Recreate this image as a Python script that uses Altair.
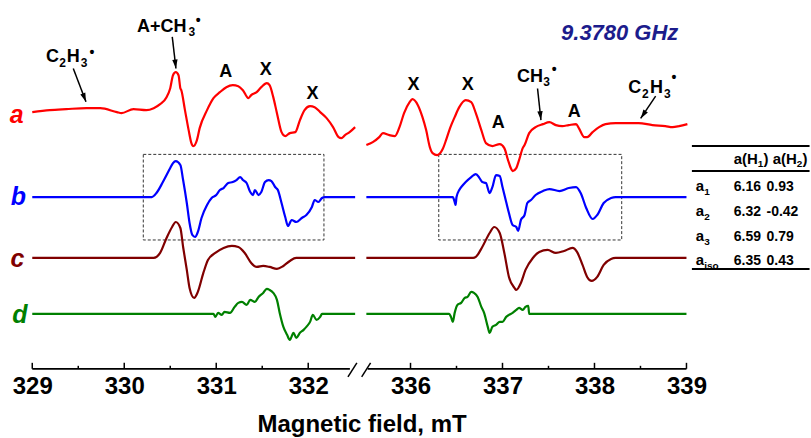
import math
import altair as alt
import pandas as pd

# ---------------- data ----------------
# field (mT) and signal (arbitrary units) for each trace, left and right part of the broken axis
a_left_B = [329.00, 329.19, 329.37, 329.59, 329.74, 329.92, 329.97, 330.10, 330.24, 330.32, 330.39, 330.46, 330.50, 330.53, 330.56, 330.59, 330.61, 330.62, 330.66, 330.70, 330.73, 330.75, 330.79, 330.82, 330.90, 330.97, 331.04, 331.11, 331.18, 331.24, 331.29, 331.35, 331.38, 331.44, 331.49, 331.55, 331.58, 331.62, 331.66, 331.71, 331.75, 331.80, 331.86, 331.91, 331.96, 332.02, 332.07, 332.13, 332.20, 332.27, 332.33, 332.36, 332.40, 332.45, 332.51]
a_left_I = [-1, 1, 2, 3, 3, -1, -2, 2, 1, 3, 7, 14, 23, 36, 39, 36, 23, 21, 1, -19, -32, -35, -29, -17, 1, 13, 19, 24, 26, 25, 21, 13, 16, 19, 24, 28, 26, 14, -2, -21, -25, -22, -21, -9, 1, 5, 4, -1, -7, -16, -26, -27, -24, -21, -16]
a_right_B = [335.52, 335.59, 335.66, 335.70, 335.77, 335.83, 335.88, 335.93, 335.99, 336.02, 336.08, 336.13, 336.17, 336.21, 336.24, 336.29, 336.35, 336.39, 336.43, 336.48, 336.53, 336.60, 336.66, 336.71, 336.77, 336.82, 336.89, 336.97, 337.02, 337.06, 337.09, 337.11, 337.15, 337.18, 337.22, 337.24, 337.29, 337.36, 337.44, 337.51, 337.58, 337.65, 337.72, 337.80, 337.83, 337.89, 337.92, 337.98, 338.05, 338.12, 338.23, 338.34, 338.48, 338.63, 338.77, 338.85, 338.92, 339.01]
a_right_I = [-34, -31, -26, -22, -24, -25, -16, -2, 9, 12, 6, -6, -19, -36, -42, -44, -38, -28, -17, -6, 4, 11, 9, -2, -19, -32, -35, -33, -37, -49, -57, -60, -57, -49, -37, -34, -22, -16, -13, -11, -14, -15, -14, -13, -17, -26, -26, -21, -16, -13, -12, -12, -12, -14, -15, -16, -15, -13]

b_left_B = [329.00, 330.30, 330.35, 330.42, 330.50, 330.53, 330.56, 330.61, 330.64, 330.68, 330.71, 330.74, 330.77, 330.80, 330.84, 330.90, 330.95, 331.00, 331.04, 331.08, 331.13, 331.18, 331.22, 331.26, 331.29, 331.33, 331.37, 331.40, 331.42, 331.46, 331.49, 331.53, 331.57, 331.60, 331.64, 331.67, 331.71, 331.75, 331.78, 331.82, 331.87, 331.93, 331.98, 332.04, 332.07, 332.11, 332.15, 332.18, 332.51]
b_left_I = [0, 0, 4, 15, 29, 34, 36, 32, 17, -6, -26, -38, -40, -35, -21, -8, -1, 2, 7, 9, 14, 15, 17, 20, 17, 14, 5, 2, 7, 2, 5, 15, 17, 16, 10, 7, -6, -20, -29, -23, -25, -21, -18, -10, -3, -5, -1, 0, 0]
b_right_B = [335.52, 336.46, 336.48, 336.49, 336.50, 336.53, 336.57, 336.60, 336.66, 336.71, 336.75, 336.78, 336.82, 336.86, 336.89, 336.93, 336.97, 337.00, 337.04, 337.07, 337.11, 337.15, 337.17, 337.20, 337.24, 337.27, 337.31, 337.36, 337.44, 337.51, 337.62, 337.72, 337.80, 337.85, 337.91, 337.98, 338.03, 338.10, 338.18, 338.23, 339.00]
b_right_I = [0, 0, -5, -8, 0, 7, 12, 15, 20, 23, 19, 15, 14, 4, 10, 22, 21, 10, -5, -16, -28, -30, -34, -23, -18, -6, -3, 2, 6, 8, 6, 9, 10, 4, -11, -22, -18, -6, -1, 0, 0]

c_left_B = [329.00, 330.32, 330.39, 330.46, 330.52, 330.56, 330.61, 330.64, 330.68, 330.71, 330.76, 330.80, 330.86, 330.91, 330.99, 331.08, 331.17, 331.24, 331.31, 331.38, 331.44, 331.51, 331.58, 331.66, 331.73, 331.80, 331.87, 332.51]
c_left_I = [0, 0, 5, 20, 31, 36, 30, 11, -12, -30, -40, -34, -15, -2, 5, 10, 12, 11, 5, -5, -9, -8, -9, -11, -8, -3, 0, 0]
c_right_B = [335.52, 336.68, 336.71, 336.78, 336.86, 336.91, 336.97, 337.02, 337.07, 337.13, 337.15, 337.20, 337.25, 337.33, 337.40, 337.49, 337.58, 337.67, 337.76, 337.81, 337.87, 337.92, 337.97, 338.03, 338.10, 338.18, 338.23, 339.00]
c_right_I = [0, 0, 1, 11, 25, 31, 25, 5, -19, -30, -32, -25, -12, 0, 6, 8, 5, 7, 10, 6, -7, -19, -23, -19, -7, -1, 0, 0]

d_left_B = [329.00, 330.97, 330.99, 331.02, 331.06, 331.09, 331.15, 331.20, 331.24, 331.28, 331.33, 331.37, 331.42, 331.46, 331.51, 331.55, 331.58, 331.62, 331.66, 331.69, 331.73, 331.77, 331.80, 331.84, 331.87, 331.91, 331.95, 331.98, 332.02, 332.05, 332.09, 332.13, 332.15, 332.51]
d_left_I = [0, 0, -3, 1, -1, 2, 1, 7, 11, 12, 9, 14, 12, 17, 21, 25, 24, 21, 14, 1, -13, -21, -26, -19, -24, -19, -16, -13, -8, -1, -6, -3, 0, 0]
d_right_B = [335.52, 336.42, 336.44, 336.46, 336.48, 336.51, 336.55, 336.59, 336.62, 336.66, 336.69, 336.73, 336.77, 336.80, 336.84, 336.86, 336.89, 336.93, 336.97, 337.00, 337.04, 337.07, 337.11, 337.15, 337.18, 337.22, 337.25, 337.28, 337.29, 339.00]
d_right_I = [0, 0, -3, -8, 1, 9, 11, 16, 17, 22, 21, 17, 7, 1, -13, -19, -13, -11, -8, -8, -3, -1, 1, 4, 6, 4, 7, 8, 0, 0]

trace_names = ["a", "b", "c", "d"]
trace_colors = ["#ff0000", "#0000ff", "#800000", "#008000"]
trace_offset = [258, 172, 111, 55]

major_ticks = [329, 330, 331, 332, 336, 337, 338, 339]
minor_ticks = [329.5, 330.5, 331.5, 336.5, 337.5, 338.5]

# annotation labels
ann_text = ["C", "H", "A+CH", "A", "X", "X", "X", "X", "A", "CH", "A", "C", "H"]
ann_B = [329.220, 329.446, 330.407, 331.103, 331.538, 332.046, 336.033, 336.621, 336.954, 337.299, 337.779, 338.438, 338.674]
ann_v = [307, 307, 337.3, 291.7, 294, 269.7, 279, 279, 240.7, 287.3, 252.3, 276, 276]
sub_text = ["2", "3", "3", "3", "2", "3"]
sub_B = [329.293, 329.526, 330.698, 337.443, 338.516, 338.755]
sub_v = [302.5, 302.5, 333.5, 283, 271.5, 271.5]
dot_B = [329.649, 330.804, 337.562, 338.863]
dot_v = [316, 348, 299, 291]
arr_B1 = [329.446, 330.522, 337.381, 338.665]
arr_v1 = [300.7, 332.3, 280.7, 273]
arr_B2 = [329.584, 330.562, 337.418, 338.502]
arr_v2 = [267.3, 300.7, 249, 250.7]

# simulation parameters table
tbl_rows = ["1", "2", "3", "iso"]
tbl_aH1 = [6.16, 6.32, 6.59, 6.35]
tbl_aH2 = [0.93, -0.42, 0.79, 0.43]

freq_label = "9.3780 GHz"

# ---------------- layout helpers ----------------
GAP = 2.888
XMIN, XMAX = 328.6493, 337.4549
W, H = 811, 369
PX_PER_MT = W / (XMAX - XMIN)


def brk(b):
    return b if b < 334 else b - GAP


FONT = "Liberation Sans"

xscale = alt.Scale(domain=[XMIN, XMAX], nice=False, zero=False)
yscale = alt.Scale(domain=[0, H], nice=False, zero=False)
xaxis = alt.Axis(
    values=[brk(t) for t in major_ticks],
    labelExpr=f"format(datum.value > 332.7 ? datum.value + {GAP} : datum.value, '.0f')",
    domain=False, ticks=False, grid=False,
    labelFont=FONT, labelFontSize=24, labelFontWeight="bold", labelColor="black",
    labelPadding=6, labelFlush=False, labelOverlap=False,
    title="Magnetic field, mT", titleFont=FONT, titleFontSize=24, titleFontWeight="bold",
    titleColor="black", titleX=362, titleY=63, titleBaseline="alphabetic", titleAlign="center",
)


def X(f="xd"):
    return alt.X(f"{f}:Q", scale=xscale, axis=xaxis)


def Y(f="v"):
    return alt.Y(f"{f}:Q", scale=yscale, axis=None)


# ---------------- build tables ----------------
series = {
    "a": [(a_left_B, a_left_I, "L"), (a_right_B, a_right_I, "R")],
    "b": [(b_left_B, b_left_I, "L"), (b_right_B, b_right_I, "R")],
    "c": [(c_left_B, c_left_I, "L"), (c_right_B, c_right_I, "R")],
    "d": [(d_left_B, d_left_I, "L"), (d_right_B, d_right_I, "R")],
}
frames = []
for name, off in zip(trace_names, trace_offset):
    for Bs, Is, seg in series[name]:
        f = pd.DataFrame({"B": Bs, "I": Is})
        f["trace"] = name
        f["seg"] = name + seg
        f["xd"] = f["B"].map(brk)
        f["v"] = f["I"] + off
        frames.append(f)
traces = pd.concat(frames, ignore_index=True)

cscale = alt.Scale(domain=trace_names, range=trace_colors)

lines = alt.Chart(traces).mark_line(strokeWidth=2.2, interpolate="monotone").encode(
    x=X(), y=Y(), color=alt.Color("trace:N", scale=cscale, legend=None),
    detail="seg:N", order="B:Q")

boxes_df = pd.DataFrame({"xd": [brk(330.207), brk(336.307)], "xd2": [brk(332.171), brk(338.296)],
                         "v": [129, 129], "v2": [214.7, 214.7]})
boxes = alt.Chart(boxes_df).mark_rect(fillOpacity=0, stroke="#333333", strokeWidth=1,
                                      strokeDash=[3, 2]).encode(
    x=X(), x2="xd2:Q", y=Y(), y2="v2:Q")

axis_df = pd.DataFrame({"xd": [brk(329.0), brk(335.534)], "xd2": [brk(332.453), brk(339.0)], "v": [0, 0]})
axis_line = alt.Chart(axis_df).mark_rule(color="black", strokeWidth=1.8).encode(
    x=X(), x2="xd2:Q", y=Y())

ticks_df = pd.DataFrame({"xd": [brk(t) for t in major_ticks + minor_ticks],
                         "v": 0, "v2": [6] * len(major_ticks) + [3] * len(minor_ticks)})
ticks = alt.Chart(ticks_df).mark_rule(color="black", strokeWidth=1.5).encode(
    x=X(), y=Y(), y2="v2:Q")

slash_df = pd.DataFrame({"xd": [brk(332.432), brk(335.469)], "xd2": [brk(332.529), brk(335.566)],
                         "v": [-8, -8], "v2": [6, 6]})
slashes = alt.Chart(slash_df).mark_rule(color="black", strokeWidth=1.5).encode(
    x=X(), y=Y(), x2="xd2:Q", y2="v2:Q")

arr_df = pd.DataFrame({"xd": [brk(b) for b in arr_B1], "v": arr_v1,
                       "xd2": [brk(b) for b in arr_B2], "v2": arr_v2})
arr_df["ang"] = [
    (math.degrees(math.atan2((x2 - x1) * PX_PER_MT, (v2 - v1)))) % 360
    for x1, v1, x2, v2 in zip(arr_df.xd, arr_df.v, arr_df.xd2, arr_df.v2)
]
arrows = alt.Chart(arr_df).mark_rule(color="black", strokeWidth=1.5).encode(
    x=X(), y=Y(), x2="xd2:Q", y2="v2:Q")
heads = alt.Chart(arr_df).mark_point(shape="M0,0L0.6,2L-0.6,2Z", filled=True, size=80,
                                     color="black", opacity=1).encode(
    x=X("xd2"), y=Y("v2"), angle=alt.Angle("ang:Q", scale=None))

ann_df = pd.DataFrame({"t": ann_text, "xd": [brk(b) for b in ann_B], "v": ann_v})
ann = alt.Chart(ann_df).mark_text(font=FONT, fontWeight="bold", fontSize=18, align="center",
                                  baseline="alphabetic", color="black").encode(
    x=X(), y=Y(), text="t:N")
sub_df = pd.DataFrame({"t": sub_text, "xd": [brk(b) for b in sub_B], "v": sub_v})
subs = alt.Chart(sub_df).mark_text(font=FONT, fontWeight="bold", fontSize=12, align="left",
                                   baseline="alphabetic", color="black").encode(
    x=X(), y=Y(), text="t:N")
dot_df = pd.DataFrame({"t": ["\u2022"] * len(dot_B), "xd": [brk(b) for b in dot_B], "v": dot_v})
dots = alt.Chart(dot_df).mark_text(font=FONT, fontWeight="bold", fontSize=14, align="center",
                                   baseline="middle", color="black").encode(
    x=X(), y=Y(), text="t:N")

lab_df = pd.DataFrame({"trace": trace_names, "xd": [328.830, 328.848, 328.839, 328.866],
                       "v": [246, 164, 102.3, 45.7]})
labels = alt.Chart(lab_df).mark_text(font=FONT, fontWeight="bold", fontStyle="italic", fontSize=25,
                                     align="center", baseline="alphabetic").encode(
    x=X(), y=Y(), text="trace:N", color=alt.Color("trace:N", scale=cscale, legend=None))

freq_df = pd.DataFrame({"t": [freq_label], "xd": [brk(338.274)], "v": [329]})
freq = alt.Chart(freq_df).mark_text(font=FONT, fontWeight="bold", fontStyle="italic", fontSize=22,
                                    align="center", baseline="alphabetic", color="#1c1c8c").encode(
    x=X(), y=Y(), text="t:N")

# table
row_v = [177.6, 152.6, 127.6, 103.6]
tl_df = pd.DataFrame({"xd": brk(339.059), "xd2": brk(340.338), "v": [223, 198, 100]})
tlines = alt.Chart(tl_df).mark_rule(color="black", strokeWidth=2).encode(x=X(), x2="xd2:Q", y=Y())

big_t = ["a(H", ")", "a(H", ")"] + ["a"] * 4
big_x = [339.514, 339.837, 339.937, 340.260] + [339.102] * 4
big_v = [205, 205, 205, 205] + row_v
tbig_df = pd.DataFrame({"t": big_t, "xd": [brk(b) for b in big_x], "v": big_v})
tbig = alt.Chart(tbig_df).mark_text(font=FONT, fontWeight="bold", fontSize=15, align="left",
                                    baseline="alphabetic", color="black").encode(
    x=X(), y=Y(), text="t:N")
tsub_t = ["1", "2"] + tbl_rows
tsub_x = [339.776, 340.199] + [339.192] * 4
tsub_v = [202, 202] + [r - 3.5 for r in row_v]
tsub_df = pd.DataFrame({"t": tsub_t, "xd": [brk(b) for b in tsub_x], "v": tsub_v})
tsub = alt.Chart(tsub_df).mark_text(font=FONT, fontWeight="bold", fontSize=10, align="left",
                                    baseline="alphabetic", color="black").encode(
    x=X(), y=Y(), text="t:N")
tval_t = [f"{x:.2f}" for x in tbl_aH1] + [f"{x:.2f}" for x in tbl_aH2]
tval_x = [339.514] * 4 + [339.870] * 4
tval_v = row_v + row_v
tval_df = pd.DataFrame({"t": tval_t, "xd": [brk(b) for b in tval_x], "v": tval_v})
tval = alt.Chart(tval_df).mark_text(font=FONT, fontWeight="bold", fontSize=14, align="left",
                                    baseline="alphabetic", color="black").encode(
    x=X(), y=Y(), text="t:N")

chart = alt.layer(
    boxes, lines, axis_line, ticks, slashes, arrows, heads, ann, subs, dots, labels, freq,
    tlines, tbig, tsub, tval
).properties(width=W, height=H, padding=0, background="white").configure_view(stroke=None)

chart.save("out.html", embed_options={"renderer": "svg", "actions": False})
